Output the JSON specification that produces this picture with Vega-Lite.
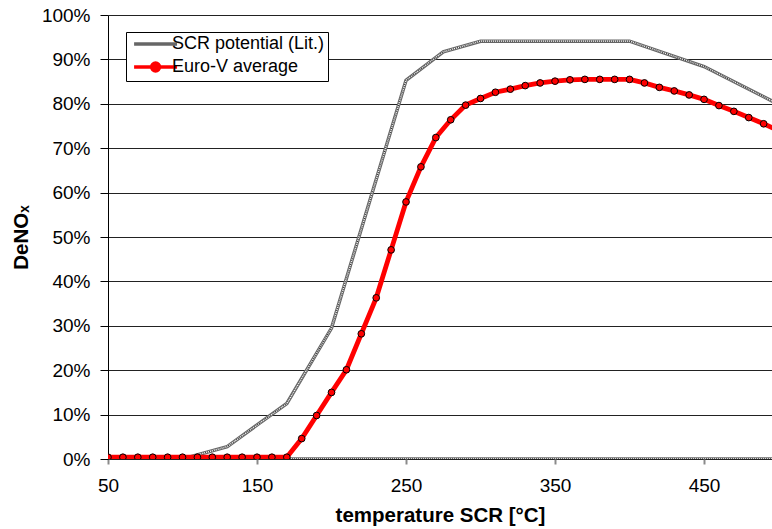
{
  "$schema": "https://vega.github.io/schema/vega-lite/v6.json",
  "width": 664,
  "height": 444,
  "autosize": {"type": "none"},
  "padding": {"left": 108, "top": 15, "right": 0, "bottom": 70},
  "background": "white",
  "config": {
    "view": {"stroke": null},
    "font": "Liberation Sans",
    "axis": {"labelFont": "Liberation Sans", "titleFont": "Liberation Sans", "labelColor": "#000", "titleColor": "#000"},
    "legend": {"labelFont": "Liberation Sans"}
  },
  "datasets": {
    "scr": [
      {"series": "SCR potential (Lit.)", "T": 50, "v": 0},
      {"series": "SCR potential (Lit.)", "T": 100, "v": 0},
      {"series": "SCR potential (Lit.)", "T": 130, "v": 0.028},
      {"series": "SCR potential (Lit.)", "T": 170, "v": 0.125},
      {"series": "SCR potential (Lit.)", "T": 200, "v": 0.295},
      {"series": "SCR potential (Lit.)", "T": 250, "v": 0.853},
      {"series": "SCR potential (Lit.)", "T": 275, "v": 0.917},
      {"series": "SCR potential (Lit.)", "T": 300, "v": 0.941},
      {"series": "SCR potential (Lit.)", "T": 400, "v": 0.941},
      {"series": "SCR potential (Lit.)", "T": 450, "v": 0.884},
      {"series": "SCR potential (Lit.)", "T": 500, "v": 0.799}
    ],
    "euro": [
      {"series": "Euro-V average", "T": 50, "v": 0.004},
      {"series": "Euro-V average", "T": 60, "v": 0.004},
      {"series": "Euro-V average", "T": 70, "v": 0.004},
      {"series": "Euro-V average", "T": 80, "v": 0.004},
      {"series": "Euro-V average", "T": 90, "v": 0.004},
      {"series": "Euro-V average", "T": 100, "v": 0.004},
      {"series": "Euro-V average", "T": 110, "v": 0.004},
      {"series": "Euro-V average", "T": 120, "v": 0.004},
      {"series": "Euro-V average", "T": 130, "v": 0.004},
      {"series": "Euro-V average", "T": 140, "v": 0.004},
      {"series": "Euro-V average", "T": 150, "v": 0.004},
      {"series": "Euro-V average", "T": 160, "v": 0.004},
      {"series": "Euro-V average", "T": 170, "v": 0.004},
      {"series": "Euro-V average", "T": 180, "v": 0.046},
      {"series": "Euro-V average", "T": 190, "v": 0.098},
      {"series": "Euro-V average", "T": 200, "v": 0.150},
      {"series": "Euro-V average", "T": 210, "v": 0.201},
      {"series": "Euro-V average", "T": 220, "v": 0.282},
      {"series": "Euro-V average", "T": 230, "v": 0.363},
      {"series": "Euro-V average", "T": 240, "v": 0.471},
      {"series": "Euro-V average", "T": 250, "v": 0.579},
      {"series": "Euro-V average", "T": 260, "v": 0.658},
      {"series": "Euro-V average", "T": 270, "v": 0.724},
      {"series": "Euro-V average", "T": 280, "v": 0.764},
      {"series": "Euro-V average", "T": 290, "v": 0.797},
      {"series": "Euro-V average", "T": 300, "v": 0.812},
      {"series": "Euro-V average", "T": 310, "v": 0.826},
      {"series": "Euro-V average", "T": 320, "v": 0.833},
      {"series": "Euro-V average", "T": 330, "v": 0.841},
      {"series": "Euro-V average", "T": 340, "v": 0.847},
      {"series": "Euro-V average", "T": 350, "v": 0.851},
      {"series": "Euro-V average", "T": 360, "v": 0.854},
      {"series": "Euro-V average", "T": 370, "v": 0.855},
      {"series": "Euro-V average", "T": 380, "v": 0.855},
      {"series": "Euro-V average", "T": 390, "v": 0.855},
      {"series": "Euro-V average", "T": 400, "v": 0.855},
      {"series": "Euro-V average", "T": 410, "v": 0.847},
      {"series": "Euro-V average", "T": 420, "v": 0.837},
      {"series": "Euro-V average", "T": 430, "v": 0.829},
      {"series": "Euro-V average", "T": 440, "v": 0.820},
      {"series": "Euro-V average", "T": 450, "v": 0.810},
      {"series": "Euro-V average", "T": 460, "v": 0.796},
      {"series": "Euro-V average", "T": 470, "v": 0.783},
      {"series": "Euro-V average", "T": 480, "v": 0.769},
      {"series": "Euro-V average", "T": 490, "v": 0.755},
      {"series": "Euro-V average", "T": 500, "v": 0.740}
    ],
    "zero": [{"T": 50, "v": 0}, {"T": 500, "v": 0}]
  },
  "encoding": {
    "x": {
      "field": "T", "type": "quantitative",
      "scale": {"domain": [50, 495.6], "nice": false, "zero": false},
      "axis": {
        "title": "temperature SCR [°C]",
        "values": [50, 150, 250, 350, 450],
        "domain": false,
        "grid": false,
        "ticks": true, "tickColor": "#8a8a8a", "tickSize": 5, "tickWidth": 2,
        "labelFontSize": 19, "labelPadding": 12, "labelFlush": false,
        "titleFontSize": 20.5, "titleFontWeight": "bold", "titlePadding": 10
      }
    },
    "y": {
      "field": "v", "type": "quantitative",
      "scale": {"domain": [0, 1], "nice": false},
      "axis": {
        "title": "DeNOₓ",
        "values": [0, 0.1, 0.2, 0.3, 0.4, 0.5, 0.6, 0.7, 0.8, 0.9, 1],
        "format": ".0%",
        "domain": true, "domainColor": "#000", "domainWidth": 1,
        "grid": true, "gridColor": "#222", "gridWidth": 1,
        "ticks": true, "tickColor": "#000", "tickSize": 8, "tickWidth": 1,
        "labelFontSize": 19, "labelPadding": 10,
        "titleFontSize": 20.5, "titleFontWeight": "bold", "titlePadding": 10
      }
    }
  },
  "layer": [
    {
      "data": {"name": "zero"},
      "mark": {"type": "line", "stroke": "#666666", "strokeWidth": 3.5, "clip": true}
    },
    {
      "data": {"name": "zero"},
      "mark": {"type": "line", "stroke": "#ffffff", "strokeWidth": 1.3, "clip": true}
    },
    {
      "data": {"name": "zero"},
      "mark": {"type": "line", "stroke": "#333333", "strokeWidth": 1.3, "strokeDash": [1, 1], "clip": true}
    },
    {
      "data": {"name": "scr"},
      "mark": {"type": "line", "strokeWidth": 3.5, "clip": true},
      "encoding": {
        "color": {
          "field": "series", "type": "nominal",
          "scale": {"domain": ["SCR potential (Lit.)", "Euro-V average"], "range": ["#666666", "#ff0000"]},
          "legend": {
            "title": null,
            "orient": "none",
            "legendX": 18,
            "legendY": 17,
            "direction": "vertical",
            "padding": 3,
            "strokeColor": "#000",
            "fillColor": "#fff",
            "labelFontSize": 18,
            "labelColor": "#000",
            "symbolSize": 61,
            "symbolStrokeWidth": 3.5,
            "symbolType": "M-1,0H10",
            "labelOffset": 25,
            "rowPadding": 3,
            "encode": {
              "symbols": {
                "update": {
                  "shape": {"signal": "datum.value === 'Euro-V average' ? 'M-1,0H10M3.5,0A1,1 0 1,0 5.5,0A1,1 0 1,0 3.5,0Z' : 'M-1,0H10'"},
                  "fill": {"value": "#ff0000"}
                }
              }
            }
          }
        }
      }
    },
    {
      "data": {"name": "scr"},
      "mark": {"type": "line", "stroke": "#ffffff", "strokeWidth": 1.3, "clip": true}
    },
    {
      "data": {"name": "scr"},
      "mark": {"type": "line", "stroke": "#333333", "strokeWidth": 1.3, "strokeDash": [1, 1], "clip": true}
    },
    {
      "data": {"name": "euro"},
      "mark": {"type": "line", "strokeWidth": 4.8, "clip": true},
      "encoding": {
        "color": {"field": "series", "type": "nominal", "legend": null}
      }
    },
    {
      "data": {"name": "euro"},
      "mark": {"type": "point", "shape": "circle", "filled": true, "fill": "#ff0000", "stroke": "#000", "strokeWidth": 1, "size": 45, "opacity": 1, "clip": true}
    }
  ]
}
